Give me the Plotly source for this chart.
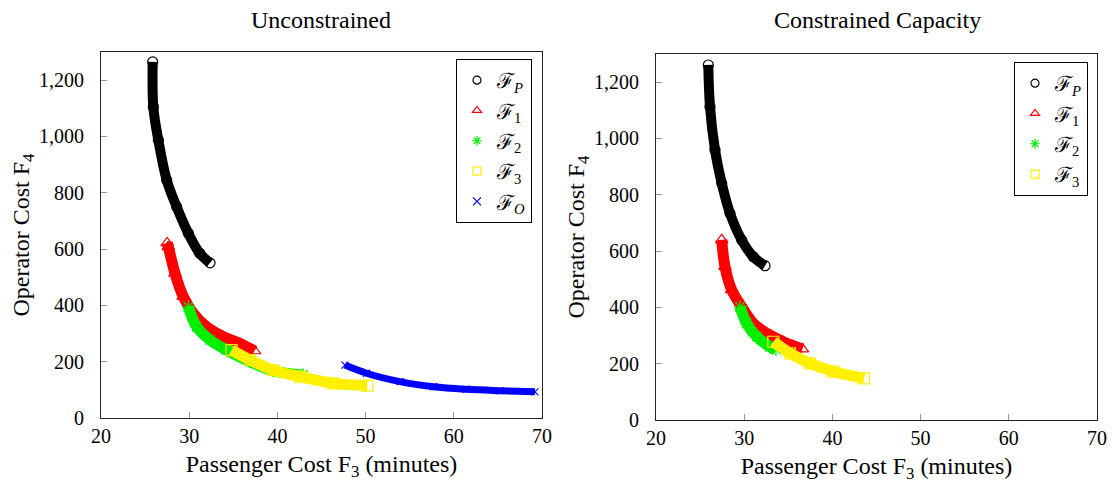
import plotly.graph_objects as go

# ---- data ----
# Unconstrained
u_P_x = [25.86, 25.93, 26.5, 27.45, 28.58, 29.9, 31.2, 32.36]
u_P_y = [1265, 1105, 987, 845, 750, 656, 585, 551]
u_1_x = [27.5, 27.63, 28.39, 29.33, 30.46, 31.98, 33.87, 35.76, 37.4]
u_1_y = [622, 608, 514, 431, 372, 324, 289, 265, 238]
u_2_x = [29.9, 30.85, 32.36, 34.25, 36.9, 39.5, 42.9]
u_2_y = [395, 324, 277, 241, 200, 168, 153]
u_3_x = [34.8, 36.9, 39.5, 42.56, 46.34, 50.2]
u_3_y = [241, 206, 170, 147, 123, 115]
u_O_x = [47.66, 50.1, 53.9, 57.7, 61.46, 65.24, 69.2]
u_O_y = [188, 159, 129, 111, 102, 97, 93]
# Constrained capacity
c_P_x = [25.93, 26.12, 26.69, 27.45, 28.39, 29.72, 31.03, 32.36]
c_P_y = [1261, 1113, 959, 841, 734, 639, 580, 548]
c_1_x = [27.45, 27.82, 28.58, 29.72, 31.03, 32.55, 34.43, 36.6]
c_1_y = [640, 545, 462, 402, 343, 308, 278, 252]
c_2_x = [29.52, 30.28, 31.42, 32.93, 33.6]
c_2_y = [402, 343, 296, 260, 250]
c_3_x = [33.3, 35.2, 37.46, 40.1, 43.6]
c_3_y = [278, 237, 201, 172, 148]

x_ticks = [20, 30, 40, 50, 60, 70]
y_ticks = [0, 200, 400, 600, 800, 1000, 1200]

series_names = ["ℱ<sub><i>P</i></sub>", "ℱ<sub>1</sub>", "ℱ<sub>2</sub>", "ℱ<sub>3</sub>", "ℱ<sub><i>O</i></sub>"]
colors = ["#000000", "#ff0000", "#00ee00", "#fff000", "#0000ff"]
symbols = ["circle-open", "triangle-up-open", "asterisk-open", "square-open", "x-thin-open"]
widths = [10, 11, 11, 11, 7]

FONT = "Liberation Serif"

W, H = 1112, 488
ML, MR, MT, MB = 101, 15, 52, 68
PW, PH = W - ML - MR, H - MT - MB
def fx(p): return (p - ML) / PW
def fy(p): return (H - MB - p) / PH

fig = go.Figure()

left = [(u_P_x, u_P_y), (u_1_x, u_1_y), (u_2_x, u_2_y), (u_3_x, u_3_y), (u_O_x, u_O_y)]
right = [(c_P_x, c_P_y), (c_1_x, c_1_y), (c_2_x, c_2_y), (c_3_x, c_3_y)]

for panel, (xa, ya, leg) in zip([left, right], [("x", "y", "legend"), ("x2", "y2", "legend2")]):
    for i, (xs, ys) in enumerate(panel):
        fig.add_trace(go.Scatter(
            x=xs, y=ys, xaxis=xa, yaxis=ya, mode="lines+markers",
            line=dict(color=colors[i], width=widths[i], shape="spline"),
            marker=dict(symbol=symbols[i], color=colors[i], size=widths[i], line=dict(width=1.2, color=colors[i])),
            showlegend=False, hoverinfo="skip"))
    for i in range(len(panel)):
        fig.add_trace(go.Scatter(
            x=[None], y=[None], xaxis=xa, yaxis=ya, mode="markers", name=series_names[i],
            marker=dict(symbol=symbols[i], color=colors[i], size=8, line=dict(width=1.2, color=colors[i])),
            legend=leg))

axis_common = dict(
    showline=True, linecolor="#222", linewidth=1, mirror=True,
    ticks="inside", ticklen=6, tickcolor="#999", tickwidth=1,
    showgrid=False, zeroline=False, automargin=False,
    tickfont=dict(family=FONT, size=20, color="#000"),
)
xt = dict(text="Passenger Cost F<sub>3</sub> (minutes)", font=dict(family=FONT, size=24), standoff=9)
yt = dict(text="Operator Cost F<sub>4</sub>", font=dict(family=FONT, size=24), standoff=2)

fig.update_layout(
    width=W, height=H, margin=dict(l=ML, r=MR, t=MT, b=MB, autoexpand=False),
    paper_bgcolor="white", plot_bgcolor="white",
    font=dict(family=FONT, color="#000"),
    xaxis=dict(domain=[fx(101), fx(542)], range=[20, 70], tickvals=x_ticks, anchor="y", title=xt, **axis_common),
    yaxis=dict(domain=[fy(418), fy(52)], range=[0, 1300], tickvals=y_ticks, tickformat=",", anchor="x", title=yt,
               ticklabelstandoff=12, **axis_common),
    xaxis2=dict(domain=[fx(656), fx(1097)], range=[20, 70], tickvals=x_ticks, anchor="y2", title=xt, **axis_common),
    yaxis2=dict(domain=[fy(420), fy(54)], range=[0, 1300], tickvals=y_ticks, tickformat=",", anchor="x2", title=yt,
                ticklabelstandoff=12, **axis_common),
    legend=dict(x=fx(532), y=fy(59), xanchor="right", yanchor="top",
                bordercolor="#000", borderwidth=1, bgcolor="white",
                font=dict(family=FONT, size=21), itemwidth=30, tracegroupgap=0),
    legend2=dict(x=fx(1088), y=fy(62), xanchor="right", yanchor="top",
                 bordercolor="#000", borderwidth=1, bgcolor="white",
                 font=dict(family=FONT, size=21), itemwidth=30, tracegroupgap=0),
    annotations=[
        dict(text="Unconstrained", x=fx(321), y=fy(20), xref="paper", yref="paper",
             xanchor="center", yanchor="middle",
             showarrow=False, font=dict(family=FONT, size=24)),
        dict(text="Constrained Capacity", x=fx(877), y=fy(20), xref="paper", yref="paper",
             xanchor="center", yanchor="middle",
             showarrow=False, font=dict(family=FONT, size=24)),
    ],
)

fig.write_html("out.html")
